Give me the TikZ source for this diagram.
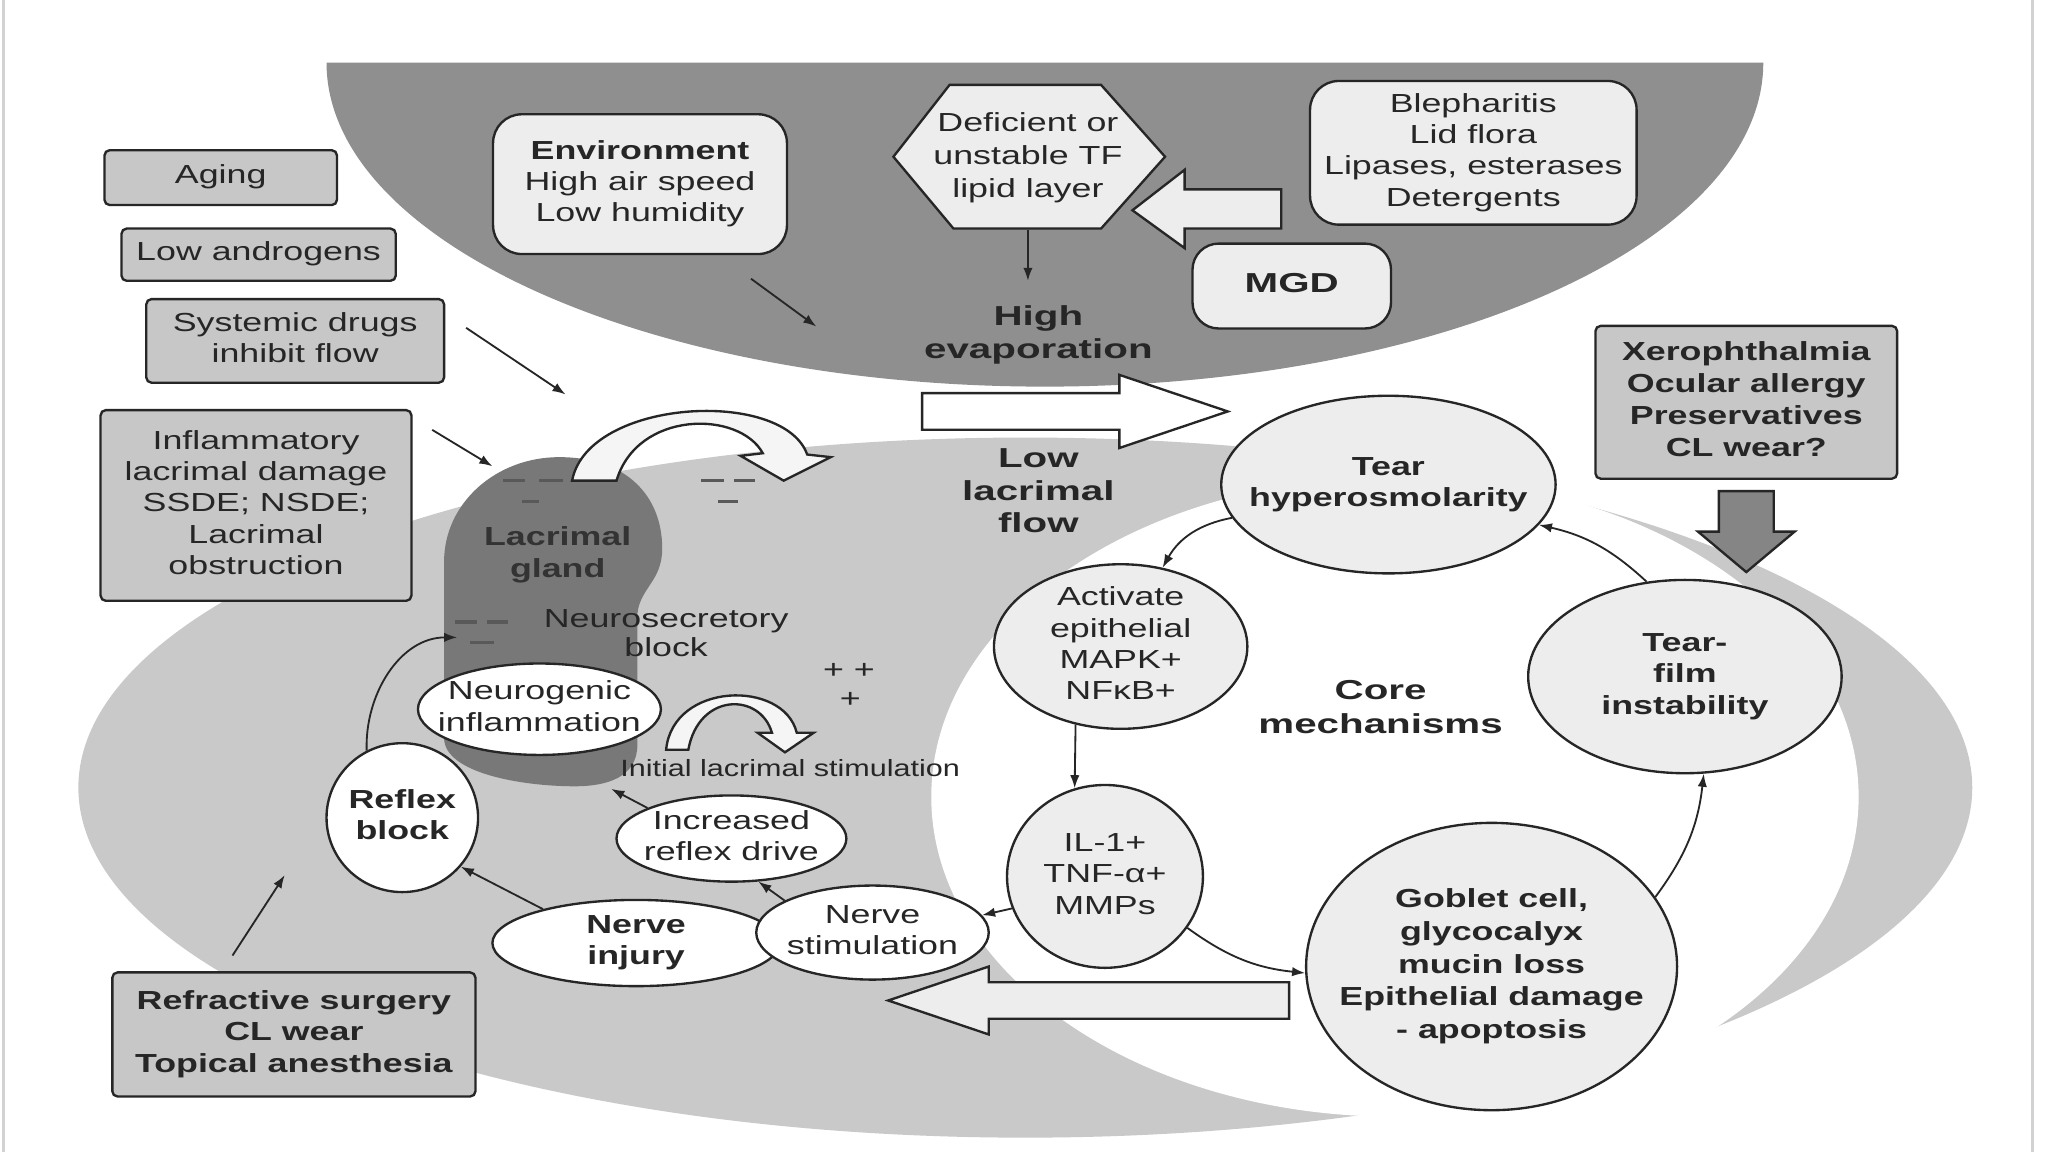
\documentclass[tikz,border=0pt]{standalone}
\usepackage{fontspec}
\setmainfont{Liberation Sans}
\usetikzlibrary{shapes.geometric,arrows.meta,calc}
\definecolor{cdark}{gray}{0.56}
\definecolor{cgland}{gray}{0.47}
\definecolor{clight}{gray}{0.79}
\definecolor{cbox}{gray}{0.78}
\definecolor{cpale}{gray}{0.93}
\definecolor{cdown}{gray}{0.52}
\definecolor{cline}{gray}{0.15}
\definecolor{ctext}{gray}{0.15}
\newcommand\tx[2][1.37]{\scalebox{#1}[1]{\begin{tabular}{@{}c@{}}#2\end{tabular}}}
\begin{document}
\begin{tikzpicture}[x=0.5pt,y=0.5pt,
  txt/.style={font=\fontsize{10}{12}\selectfont, text=ctext, inner sep=0pt},
  btxt/.style={font=\fontsize{10}{12}\selectfont\bfseries, text=ctext, inner sep=0pt},
  big/.style={font=\fontsize{10.5}{12.5}\selectfont\bfseries, text=ctext, inner sep=0pt},
  sqbox/.style={draw=cline, line width=0.9pt, fill=cbox, rounded corners=2pt, inner sep=0pt, txt},
  rdbox/.style={draw=cline, line width=0.9pt, fill=cpale, rounded corners=11pt, inner sep=0pt, txt},
  wel/.style={ellipse, draw=cline, line width=0.9pt, fill=white, inner sep=0pt},
  cel/.style={ellipse, draw=cline, line width=0.9pt, fill=cpale, inner sep=0pt},
  arr/.style={draw=cline, line width=0.7pt, -{Latex[length=5pt,width=3.6pt]}},
  blk/.style={draw=cline, line width=0.9pt, fill=cpale, line join=miter},
  dashm/.style={draw=black!65, line width=1.4pt},
]
\fill[white] (0,0) rectangle (1568,-882);
\useasboundingbox (0,0) rectangle (1568,-882);
\draw[gray!35, line width=1.2pt] (3,0) -- (3,-882) (1556,0) -- (1556,-882);

% background regions
\fill[cdark] (250,-48) arc[start angle=180, end angle=360, x radius=550, y radius=248] -- cycle;
\fill[clight] (785,-603) ellipse[x radius=725, y radius=268];
\fill[white] (1068,-610) ellipse[x radius=355, y radius=245];

% lacrimal gland
\fill[cgland] (340,-565) -- (340,-430) .. controls (340,-385) and (380,-350) .. (428,-350)
  .. controls (480,-350) and (507,-380) .. (507,-420)
  .. controls (507,-445) and (490,-450) .. (488,-470) -- (488,-570)
  .. controls (488,-595) and (465,-602) .. (440,-602)
  .. controls (400,-602) and (340,-592) .. (340,-565) -- cycle;
\node[btxt, text=black!80] (lgt) at (427,-425) {\tx{Lacrimal\\gland}};

% dash marks
\draw[dashm] (385,-368) -- (402,-368) (413,-368) -- (431,-368) (400,-384) -- (413,-384);
\draw[dashm] (537,-368) -- (554,-368) (562,-368) -- (578,-368) (550,-384) -- (565,-384);
\draw[dashm] (348,-476) -- (365,-476) (373,-476) -- (389,-476) (360,-492) -- (378,-492);

% curved block arrows
\draw[blk, fill=white!96!black] (438,-368) .. controls (450,-305) and (600,-297) .. (618,-348)
  -- (636,-350) -- (600,-368) -- (567,-349) -- (584,-347)
  .. controls (566,-314) and (488,-314) .. (472,-368) -- cycle;
\draw[blk, fill=white!96!black] (510,-574) .. controls (515,-522) and (600,-520) .. (610,-561)
  -- (623,-561) -- (601,-576) -- (580,-561) -- (591,-561)
  .. controls (582,-530) and (535,-530) .. (527,-574) -- cycle;

% straight block arrows
\draw[blk] (981,-145) -- (907,-145) -- (907,-130) -- (867,-161) -- (907,-190) -- (907,-175) -- (981,-175) -- cycle;
\draw[blk, fill=white] (706,-301) -- (857,-301) -- (857,-287) -- (940,-315) -- (857,-343) -- (857,-329) -- (706,-329) -- cycle;
\draw[blk] (987,-752) -- (757,-752) -- (757,-740) -- (680,-766) -- (757,-792) -- (757,-780) -- (987,-780) -- cycle;
\draw[blk, fill=cdown] (1316,-376) -- (1358,-376) -- (1358,-407) -- (1374,-407) -- (1337,-438) -- (1300,-407) -- (1316,-407) -- cycle;

% left boxes
\node[sqbox, minimum width=89pt, minimum height=21pt] (aging) at (169,-136) {\tx{Aging}};
\node[sqbox, minimum width=105pt, minimum height=20pt] (andro) at (198,-195) {\tx{Low androgens}};
\node[sqbox, minimum width=114pt, minimum height=32pt] (sysd) at (226,-261) {\tx{Systemic drugs\\inhibit flow}};
\node[sqbox, minimum width=119pt, minimum height=73pt] (infl) at (196,-387) {\tx{Inflammatory\\lacrimal damage\\SSDE; NSDE;\\Lacrimal\\obstruction}};
\node[sqbox, btxt, minimum width=139pt, minimum height=47.5pt] (refr) at (225,-792) {\tx{Refractive surgery\\CL wear\\Topical anesthesia}};

% top region
\node[rdbox, minimum width=112.5pt, minimum height=53.5pt] (env) at (490,-141) {\tx{\textbf{Environment}\\High air speed\\Low humidity}};
\fill[cpale, draw=cline, line width=0.9pt, line join=miter] (684,-120) -- (727,-65) -- (843,-65) -- (892,-120) -- (843,-175) -- (730,-175) -- cycle;
\node[txt, font=\fontsize{10}{12.5}\selectfont, minimum width=104pt, minimum height=55pt] (hex) at (787,-121) {\tx{Deficient or\\unstable TF\\lipid layer}};
\node[rdbox, minimum width=125pt, minimum height=55pt] (bleph) at (1128,-117) {\tx{Blepharitis\\Lid flora\\Lipases, esterases\\Detergents}};
\node[rdbox, big, rounded corners=10pt, minimum width=76pt, minimum height=32.5pt] (mgd) at (989,-219) {\tx[1.47]{MGD}};
\node[big] (hevap) at (795,-257) {\tx[1.47]{High\\evaporation}};
\coordinate (evapT) at (787,-215);
\draw[arr] (hex.south) -- (evapT);
\node[big] (llf) at (795,-378) {\tx[1.47]{Low\\lacrimal\\flow}};

% left cluster
\node[txt, font=\fontsize{10}{11}\selectfont] (nsb) at (510,-487) {\tx{Neurosecretory\\block}};
\node[txt] (pl1) at (650,-515) {\tx{+ +}};
\node[txt] (pl2) at (651,-537) {\tx{+}};
\node[wel, minimum width=93pt, minimum height=35pt, label={[txt]center:{\tx{Neurogenic\\inflammation}}}] (neu) at (413,-543) {};
\node[txt, font=\fontsize{9}{11}\selectfont] (ils) at (605,-590) {\tx[1.3]{Initial lacrimal stimulation}};
\node[wel, minimum width=58pt, minimum height=57pt, label={[btxt]center:{\tx{Reflex\\block}}}] (rb) at (308,-626) {};
\node[wel, minimum width=88pt, minimum height=33pt, label={[txt]center:{\tx{Increased\\reflex drive}}}] (ir) at (560,-642) {};
\node[wel, minimum width=110pt, minimum height=33pt, label={[btxt]center:{\tx{Nerve\\injury}}}] (ni) at (487,-722) {};
\node[wel, minimum width=89pt, minimum height=36pt, label={[txt]center:{\tx{Nerve\\stimulation}}}] (ns) at (668,-714) {};

% core
\node[cel, minimum width=128pt, minimum height=68pt, label={[btxt]center:{\tx{Tear\\hyperosmolarity}}}] (th) at (1063,-371) {};
\node[cel, minimum width=97pt, minimum height=63pt, label={[txt]center:{\tx{Activate\\epithelial\\MAPK+\\NFκB+}}}] (act) at (858,-495) {};
\node[cel, minimum width=75pt, minimum height=70pt, label={[txt]center:{\tx{IL-1+\\TNF-α+\\MMPs}}}] (il) at (846,-671) {};
\node[cel, minimum width=142pt, minimum height=110pt, label={[btxt, font=\fontsize{10}{12.5}\selectfont\bfseries]center:{\tx{Goblet cell,\\glycocalyx\\mucin loss\\Epithelial damage\\- apoptosis}}}] (gob) at (1142,-740) {};
\node[cel, minimum width=120pt, minimum height=74pt, label={[btxt]center:{\tx{Tear-\\film\\instability}}}] (tfi) at (1290,-518) {};
\node[big, font=\fontsize{10.5}{13}\selectfont\bfseries] (core) at (1057,-543) {\tx[1.47]{Core\\mechanisms}};
\node[sqbox, btxt, font=\fontsize{10}{12.3}\selectfont\bfseries, minimum width=115.5pt, minimum height=58.5pt] (xero) at (1337,-308) {\tx{Xerophthalmia\\Ocular allergy\\Preservatives\\CL wear?}};

% connectors
\coordinate (envT) at (625,-250);
\draw[arr] ($(env.south)+(85,-18)$) -- (envT);
\coordinate (sysT) at (433,-302);
\draw[arr] ($(sysd.east)+(16,10)$) -- (sysT);
\coordinate (inflT) at (377,-357);
\draw[arr] ($(infl.north east)+(15,-16)$) -- (inflT);
\coordinate (refrT) at (218,-670);
\draw[arr] ($(refr.north)+(-47,12)$) -- (refrT);
\coordinate (glandL) at (350,-488);
\draw[arr] (rb.118) to[out=92, in=180] (glandL);
\draw[arr] (ni.160) -- (rb.-40);
\draw[arr] (ns.160) -- (ir.-58);
\coordinate (irT) at (468,-604);
\draw[arr] (ir.160) -- (irT);
\draw[arr] (il.199) -- (ns.9);

\draw[arr] (th.192) to[bend right=25] (act.62);
\draw[arr] (act.240) -- (il.109);
\draw[arr] (il.-32) to[bend right=15] (gob.182);
\draw[arr] (gob.23) to[bend right=15] (tfi.-79);
\draw[arr] (tfi.112) to[bend right=15] (th.-15);
\end{tikzpicture}
\end{document}
